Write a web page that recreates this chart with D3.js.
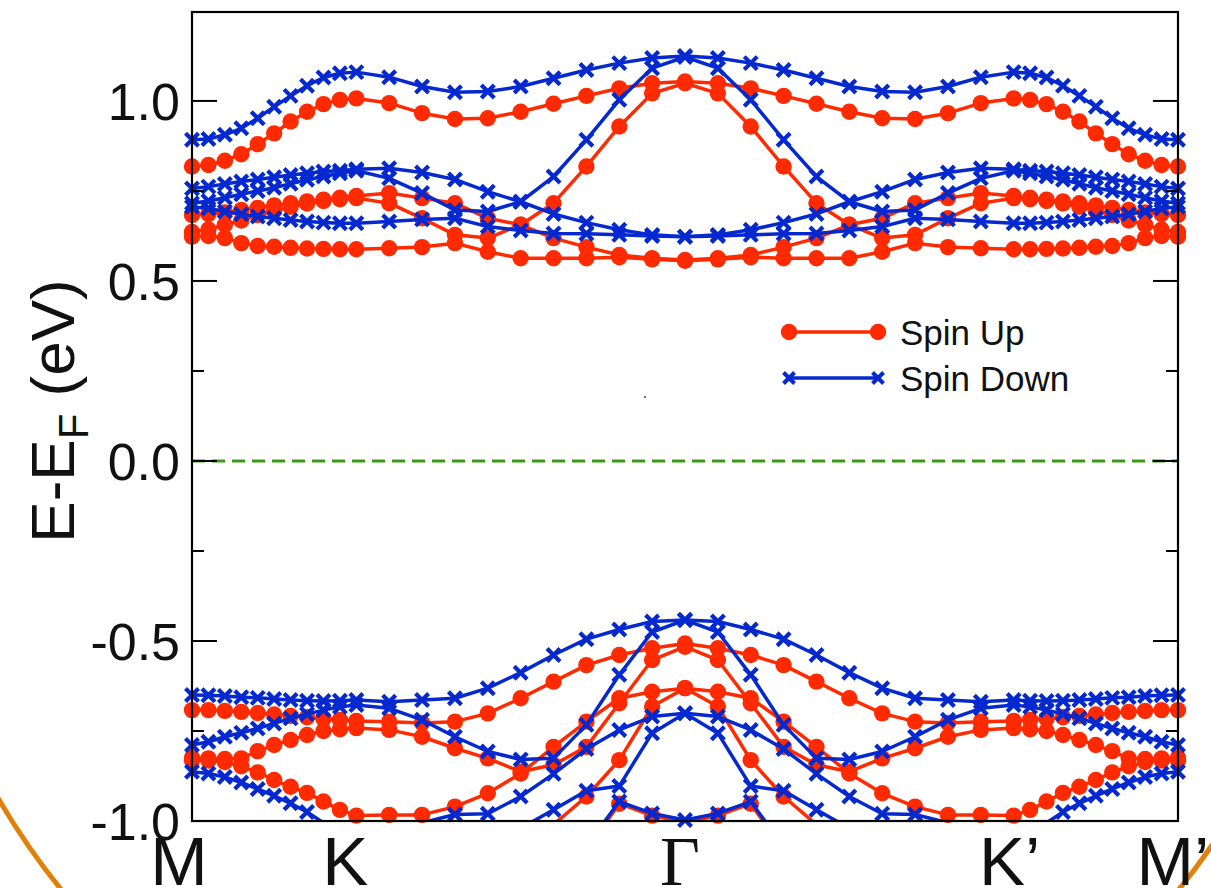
<!DOCTYPE html>
<html>
<head>
<meta charset="utf-8">
<script src="https://cdn.jsdelivr.net/npm/d3@7"></script>
<style>
  html, body { margin: 0; padding: 0; background: #fff; }
  svg { display: block; }
</style>
</head>
<body>
<script>
// k-path positions (M=0, K=1, Gamma=3, K'=5, M'=6)
const kPoints = [0,0.1,0.2,0.3,0.4,0.5,0.6,0.7,0.8,0.9,1.0,1.2,1.4,1.6,1.8,2.0,2.2,2.4,2.6,2.8,3.0,
                 3.2,3.4,3.6,3.8,4.0,4.2,4.4,4.6,4.8,5.0,5.1,5.2,5.3,5.4,5.5,5.6,5.7,5.8,5.9,6.0];
const kTicks = [0, 1, 3, 5, 6];
const kLabels = ["M", "K", "\u0393", "K\u2019", "M\u2019"];
const yTicks = [-1.0, -0.5, 0.0, 0.5, 1.0];
const yMinorTicks = [-0.75, -0.25, 0.25, 0.75];
const legendNames = ["Spin Up", "Spin Down"];

// spin up (red) bands
const upC1 = [0.818,0.822,0.834,0.852,0.880,0.910,0.943,0.970,0.991,1.003,1.007,0.994,0.966,0.950,0.952,0.970,0.992,1.014,1.035,1.049,1.054,
              1.049,1.035,1.014,0.992,0.970,0.952,0.950,0.966,0.994,1.007,1.003,0.991,0.970,0.943,0.910,0.880,0.852,0.834,0.822,0.818];
const upC2 = [0.683,0.686,0.690,0.697,0.703,0.710,0.716,0.721,0.726,0.731,0.736,0.744,0.730,0.716,0.674,0.656,0.716,0.818,0.929,1.021,1.049,
              1.021,0.929,0.818,0.716,0.656,0.674,0.716,0.730,0.744,0.736,0.731,0.726,0.721,0.716,0.710,0.703,0.697,0.690,0.686,0.683];
const upC3 = [0.636,0.643,0.656,0.668,0.683,0.695,0.706,0.715,0.722,0.727,0.730,0.716,0.674,0.628,0.619,0.656,0.619,0.594,0.572,0.563,0.558,
              0.563,0.572,0.594,0.619,0.656,0.619,0.628,0.674,0.716,0.730,0.727,0.722,0.715,0.706,0.695,0.683,0.668,0.656,0.643,0.636];
const upC4 = [0.623,0.625,0.619,0.605,0.597,0.595,0.592,0.590,0.589,0.588,0.588,0.591,0.594,0.605,0.581,0.563,0.563,0.563,0.566,0.560,0.556,
              0.560,0.566,0.563,0.563,0.563,0.581,0.605,0.594,0.591,0.588,0.588,0.589,0.590,0.592,0.595,0.597,0.605,0.619,0.625,0.623];
const upV1 = [-0.692,-0.692,-0.694,-0.697,-0.700,-0.704,-0.708,-0.712,-0.716,-0.719,-0.722,-0.724,-0.728,-0.724,-0.701,-0.659,-0.613,-0.567,-0.539,-0.520,-0.507,
              -0.520,-0.539,-0.567,-0.613,-0.659,-0.701,-0.724,-0.728,-0.724,-0.722,-0.719,-0.716,-0.712,-0.708,-0.704,-0.700,-0.697,-0.694,-0.692,-0.692];
const upV2 = [-0.824,-0.826,-0.828,-0.826,-0.806,-0.789,-0.775,-0.761,-0.750,-0.745,-0.742,-0.747,-0.766,-0.798,-0.826,-0.863,-0.844,-0.794,-0.673,-0.553,-0.516,
              -0.553,-0.673,-0.794,-0.844,-0.863,-0.826,-0.798,-0.766,-0.747,-0.742,-0.745,-0.750,-0.761,-0.775,-0.789,-0.806,-0.826,-0.828,-0.826,-0.824];
const upV3 = [-0.831,-0.832,-0.836,-0.848,-0.865,-0.886,-0.905,-0.922,-0.946,-0.969,-0.985,-0.983,-0.983,-0.960,-0.923,-0.868,-0.794,-0.724,-0.659,-0.641,-0.631,
              -0.641,-0.659,-0.724,-0.794,-0.868,-0.923,-0.960,-0.983,-0.983,-0.985,-0.969,-0.946,-0.922,-0.905,-0.886,-0.865,-0.848,-0.836,-0.832,-0.831];
const upV4 = [null,null,null,null,null,null,null,null,null,null,null,null,null,null,null,-1.08,-1.01,-0.932,-0.831,-0.682,-0.631,
              -0.682,-0.831,-0.932,-1.01,-1.08,null,null,null,null,null,null,null,null,null,null,null,null,null,null,null];
const upV5 = [null,null,null,null,null,null,null,null,null,null,null,null,null,null,null,null,null,-1.08,-0.952,-0.985,-1.004,
              -0.985,-0.952,-1.08,null,null,null,null,null,null,null,null,null,null,null,null,null,null,null,null,null];

// spin down (blue) bands
const downC1 = [0.892,0.894,0.906,0.924,0.952,0.984,1.014,1.042,1.065,1.077,1.080,1.066,1.040,1.024,1.026,1.040,1.063,1.086,1.105,1.119,1.125,
                1.119,1.105,1.086,1.063,1.040,1.026,1.024,1.040,1.066,1.080,1.077,1.065,1.042,1.014,0.984,0.952,0.924,0.906,0.894,0.892];
const downC2 = [0.757,0.762,0.769,0.776,0.782,0.788,0.794,0.799,0.804,0.806,0.810,0.813,0.801,0.782,0.748,0.720,0.790,0.892,1.003,1.091,1.122,
                1.091,1.003,0.892,0.790,0.720,0.748,0.782,0.801,0.813,0.810,0.806,0.804,0.799,0.794,0.788,0.782,0.776,0.769,0.762,0.757];
const downC3 = [0.716,0.722,0.731,0.741,0.750,0.759,0.770,0.781,0.790,0.799,0.806,0.785,0.744,0.697,0.693,0.720,0.686,0.662,0.642,0.628,0.623,
                0.628,0.642,0.662,0.686,0.720,0.693,0.697,0.744,0.785,0.806,0.799,0.790,0.781,0.770,0.759,0.750,0.741,0.731,0.722,0.716];
const downC4 = [0.706,0.701,0.693,0.685,0.679,0.674,0.669,0.665,0.662,0.660,0.660,0.665,0.671,0.674,0.651,0.640,0.632,0.631,0.628,0.625,0.623,
                0.625,0.628,0.631,0.632,0.640,0.651,0.674,0.671,0.665,0.660,0.660,0.662,0.665,0.669,0.674,0.679,0.685,0.693,0.701,0.706];
const downV1 = [-0.650,-0.651,-0.653,-0.656,-0.658,-0.661,-0.664,-0.666,-0.667,-0.666,-0.664,-0.669,-0.664,-0.659,-0.631,-0.588,-0.539,-0.495,-0.468,-0.446,-0.442,
                -0.446,-0.468,-0.495,-0.539,-0.588,-0.631,-0.659,-0.664,-0.669,-0.664,-0.666,-0.667,-0.666,-0.664,-0.661,-0.658,-0.656,-0.653,-0.651,-0.650];
const downV2 = [-0.789,-0.780,-0.766,-0.755,-0.743,-0.729,-0.715,-0.703,-0.692,-0.683,-0.678,-0.687,-0.719,-0.766,-0.807,-0.829,-0.826,-0.733,-0.594,-0.475,-0.442,
                -0.475,-0.594,-0.733,-0.826,-0.829,-0.807,-0.766,-0.719,-0.687,-0.678,-0.683,-0.692,-0.703,-0.715,-0.729,-0.743,-0.755,-0.766,-0.780,-0.789];
const downV3 = [-0.863,-0.868,-0.878,-0.893,-0.911,-0.930,-0.951,-0.975,-1.005,-1.030,-1.050,-1.050,-1.005,-0.982,-0.980,-0.932,-0.869,-0.800,-0.747,-0.710,-0.701,
                -0.710,-0.747,-0.800,-0.869,-0.932,-0.980,-0.982,-1.005,-1.050,-1.050,-1.030,-1.005,-0.975,-0.951,-0.930,-0.911,-0.893,-0.878,-0.868,-0.863];
const downV4 = [null,null,null,null,null,null,null,null,null,null,null,null,null,null,-1.08,-1.02,-0.969,-0.916,-0.903,-0.756,-0.701,
                -0.756,-0.903,-0.916,-0.969,-1.02,-1.08,null,null,null,null,null,null,null,null,null,null,null,null,null,null];
const downV5 = [null,null,null,null,null,null,null,null,null,null,null,null,null,null,null,null,null,-1.07,-0.946,-0.979,-0.997,
                -0.979,-0.946,-1.07,null,null,null,null,null,null,null,null,null,null,null,null,null,null,null,null,null];

const spinUp = [upC1, upC2, upC3, upC4, upV1, upV2, upV3, upV4, upV5];
const spinDown = [downC1, downC2, downC3, downC4, downV1, downV2, downV3, downV4, downV5];

const red = "#ff2a00";
const blue = "#0529cf";

const width = 1211, height = 888;
const x = d3.scaleLinear().domain([0, 6]).range([192, 1178]);
const y = d3.scaleLinear().domain([-1.0, 1.247]).range([821, 12]);

const svg = d3.select("body").append("svg")
    .attr("width", width)
    .attr("height", height)
    .style("font-family", "'Liberation Sans', Arial, sans-serif");

svg.append("rect").attr("width", width).attr("height", height).attr("fill", "#fff");

const defs = svg.append("defs");
defs.append("clipPath").attr("id", "plot-clip")
  .append("rect")
    .attr("x", x(0)).attr("y", y(1.247))
    .attr("width", x(6) - x(0)).attr("height", y(-1.0) - y(1.247));
defs.append("clipPath").attr("id", "ring-clip")
  .append("rect")
    .attr("x", 0).attr("y", 600)
    .attr("width", width).attr("height", height - 600);

// big orange ring behind the figure, only its lower corners show
svg.append("circle")
    .attr("clip-path", "url(#ring-clip)")
    .attr("cx", 620).attr("cy", 437).attr("r", 719)
    .attr("fill", "none")
    .attr("stroke", "#e2800c")
    .attr("stroke-width", 5);

// Fermi level
svg.append("line")
    .attr("x1", x(0)).attr("x2", x(6))
    .attr("y1", y(0)).attr("y2", y(0))
    .attr("stroke", "#3a9c16")
    .attr("stroke-width", 3)
    .attr("stroke-dasharray", "13,7");

const line = d3.line()
    .defined(d => d[1] !== null)
    .x(d => x(d[0]))
    .y(d => y(d[1]));

const xMark = "M-6.5,-6.5L6.5,6.5M-6.5,6.5L6.5,-6.5";

function drawBand(values, color, marker) {
    const pts = values.map((v, i) => [kPoints[i], v]);
    const g = svg.append("g");
    g.append("path")
        .datum(pts)
        .attr("clip-path", "url(#plot-clip)")
        .attr("fill", "none")
        .attr("stroke", color)
        .attr("stroke-width", 3.5)
        .attr("stroke-linejoin", "round")
        .attr("d", line);
    const shown = pts.filter(d => d[1] !== null && d[1] >= -1.0);
    if (marker === "circle") {
        g.selectAll("circle").data(shown).join("circle")
            .attr("cx", d => x(d[0]))
            .attr("cy", d => y(d[1]))
            .attr("r", 8.2)
            .attr("fill", color);
    } else {
        g.selectAll("path.m").data(shown).join("path")
            .attr("class", "m")
            .attr("transform", d => `translate(${x(d[0])},${y(d[1])})`)
            .attr("d", xMark)
            .attr("stroke", color)
            .attr("stroke-width", 4.2)
            .attr("fill", "none");
    }
}

spinUp.forEach(b => drawBand(b, red, "circle"));
spinDown.forEach(b => drawBand(b, blue, "x"));

// frame
svg.append("rect")
    .attr("x", x(0)).attr("y", y(1.247))
    .attr("width", x(6) - x(0)).attr("height", y(-1.0) - y(1.247))
    .attr("fill", "none")
    .attr("stroke", "#000")
    .attr("stroke-width", 2.2);

// ticks, left and right, pointing inward
const tickG = svg.append("g").attr("stroke", "#000").attr("stroke-width", 2);
yTicks.forEach(t => {
    tickG.append("line").attr("x1", x(0)).attr("x2", x(0) + 25).attr("y1", y(t)).attr("y2", y(t));
    tickG.append("line").attr("x1", x(6)).attr("x2", x(6) - 25).attr("y1", y(t)).attr("y2", y(t));
});
yMinorTicks.forEach(t => {
    tickG.append("line").attr("x1", x(0)).attr("x2", x(0) + 12).attr("y1", y(t)).attr("y2", y(t));
    tickG.append("line").attr("x1", x(6)).attr("x2", x(6) - 12).attr("y1", y(t)).attr("y2", y(t));
});

svg.append("g").selectAll("text").data(yTicks).join("text")
    .attr("x", 180)
    .attr("y", d => y(d))
    .attr("dy", "0.36em")
    .attr("text-anchor", "end")
    .attr("font-size", 52)
    .attr("fill", "#111")
    .text(d => d.toFixed(1));

// k-point labels sit a little left of their ticks, as in the figure
const kLabelShift = [-13, -11, -5, -4, -5];
svg.append("g").selectAll("text").data(kTicks).join("text")
    .attr("x", (d, i) => x(d) + kLabelShift[i])
    .attr("y", 885)
    .attr("text-anchor", "middle")
    .attr("font-size", 69)
    .attr("font-family", (d, i) => i === 2 ? "'Liberation Serif', serif" : null)
    .attr("fill", "#111")
    .text((d, i) => kLabels[i]);

// y label
const yl = svg.append("text")
    .attr("transform", "translate(74,411) rotate(-90)")
    .attr("text-anchor", "middle")
    .attr("font-size", 62)
    .attr("fill", "#111");
yl.append("tspan").text("E-E");
yl.append("tspan").attr("font-size", 42).attr("dy", 14).text("F");
yl.append("tspan").attr("dy", -14).text(" (eV)");

// legend
const legend = svg.append("g");
[[red, "circle", 332], [blue, "x", 378]].forEach((s, i) => {
    legend.append("line")
        .attr("x1", 789).attr("x2", 878).attr("y1", s[2]).attr("y2", s[2])
        .attr("stroke", s[0]).attr("stroke-width", 3.5);
    [789, 878].forEach(px => {
        if (s[1] === "circle") {
            legend.append("circle").attr("cx", px).attr("cy", s[2]).attr("r", 8.2).attr("fill", s[0]);
        } else {
            legend.append("path").attr("transform", `translate(${px},${s[2]})`)
                .attr("d", "M-5.5,-5.5L5.5,5.5M-5.5,5.5L5.5,-5.5")
                .attr("stroke", s[0]).attr("stroke-width", 4).attr("fill", "none");
        }
    });
    legend.append("text")
        .attr("x", 900).attr("y", s[2]).attr("dy", "0.36em")
        .attr("font-size", 35)
        .attr("fill", "#111")
        .text(legendNames[i]);
});

// stray dot seen in the figure
svg.append("circle").attr("cx", 645).attr("cy", 397).attr("r", 1).attr("fill", "#444");
</script>
</body>
</html>
